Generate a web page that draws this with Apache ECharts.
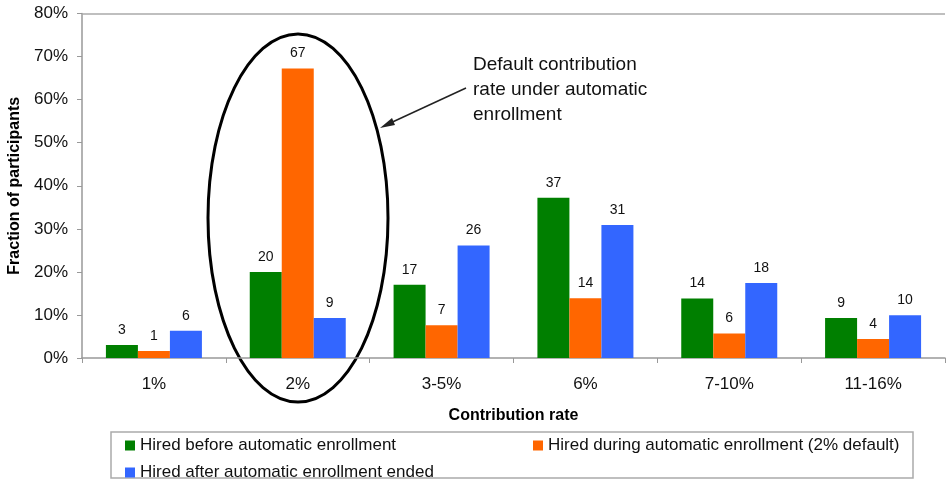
<!DOCTYPE html>
<html>
<head>
<meta charset="utf-8">
<script src="https://cdn.jsdelivr.net/npm/echarts@6/dist/echarts.min.js"></script>
<style>
  html, body { margin: 0; padding: 0; background: #fff; }
  #main { width: 950px; height: 479px; }
</style>
</head>
<body>
<div id="main"></div>
<script>
// categories on the x axis
const categories = ["1%", "2%", "3-5%", "6%", "7-10%", "11-16%"];
const seriesNames = [
  "Hired before automatic enrollment",
  "Hired during automatic enrollment (2% default)",
  "Hired after automatic enrollment ended"
];
// bar heights (percent)
const beforeVals = [3.0, 20.0, 17.0, 37.2, 13.8, 9.3];
const duringVals = [1.6, 67.2, 7.6, 13.9, 5.7, 4.4];
const afterVals = [6.3, 9.3, 26.1, 30.9, 17.4, 9.9];
// printed labels above bars
const beforeLabels = [3, 20, 17, 37, 14, 9];
const duringLabels = [1, 67, 7, 14, 6, 4];
const afterLabels = [6, 9, 26, 31, 18, 10];
const yTicks = [0, 10, 20, 30, 40, 50, 60, 70, 80];

const colors = ["#007f00", "#ff6600", "#3366ff"];
const font = "Liberation Sans, Arial, sans-serif";

function makeSeries(name, vals, labels, color, withTopLine) {
  let s = {
    name: name,
    type: "bar",
    barWidth: 32,
    barGap: "0%",
    itemStyle: { color: color },
    label: {
      show: true,
      position: "top",
      distance: 8,
      color: "#111",
      fontSize: 14,
      fontFamily: font,
      formatter: p => labels[p.dataIndex]
    },
    data: vals
  };
  if (withTopLine) {
    s.markLine = {
      silent: true,
      symbol: "none",
      label: { show: false },
      lineStyle: { color: "#aaa", width: 1.5, type: "solid" },
      data: [{ yAxis: yTicks[yTicks.length - 1] }]
    };
  }
  return s;
}

function legendAt(name, left, top) {
  return {
    left: left,
    top: top,
    padding: 0,
    itemWidth: 10,
    itemHeight: 10,
    icon: "rect",
    textStyle: { fontSize: 17, color: "#111" },
    data: [name]
  };
}

let chart = echarts.init(document.getElementById("main"));
chart.setOption({
  animation: false,
  textStyle: { fontFamily: font },
  grid: { left: 82, right: 5, top: 13.5, bottom: 121, outerBoundsMode: "none" },
  legend: [
    legendAt(seriesNames[0], 125, 437),
    legendAt(seriesNames[1], 533, 437),
    legendAt(seriesNames[2], 125, 464)
  ],
  xAxis: {
    type: "category",
    data: categories,
    name: "Contribution rate",
    nameLocation: "middle",
    nameGap: 50,
    nameTextStyle: { fontSize: 16, fontWeight: "bold", color: "#000" },
    axisLine: { lineStyle: { color: "#999", width: 1.5 } },
    axisTick: { show: true, length: 5, lineStyle: { color: "#999" } },
    axisLabel: { fontSize: 17, color: "#111", margin: 18 }
  },
  yAxis: {
    type: "value",
    min: yTicks[0],
    max: yTicks[yTicks.length - 1],
    interval: 10,
    name: "Fraction of participants",
    nameLocation: "middle",
    nameGap: 57,
    nameTextStyle: { fontSize: 16, fontWeight: "bold", color: "#000" },
    axisLine: { show: true, lineStyle: { color: "#999", width: 1.5 } },
    axisTick: { show: true, length: 5, lineStyle: { color: "#999" } },
    splitLine: { show: false },
    axisLabel: { fontSize: 17, color: "#111", margin: 14, formatter: "{value}%" }
  },
  graphic: [
    // legend border
    {
      type: "rect",
      shape: { x: 111, y: 432, width: 802, height: 46 },
      style: { fill: "none", stroke: "#aaa", lineWidth: 1.5 }
    },
    // ellipse round the 2% group
    {
      type: "ellipse",
      shape: { cx: 298, cy: 218, rx: 90, ry: 184 },
      style: { fill: "none", stroke: "#000", lineWidth: 3 }
    },
    // arrow
    {
      type: "line",
      shape: { x1: 466, y1: 88, x2: 386, y2: 125 },
      style: { stroke: "#222", lineWidth: 1.5 }
    },
    {
      type: "polygon",
      shape: { points: [[380, 128], [392, 118], [395, 125]] },
      style: { fill: "#222" }
    },
    {
      type: "text",
      left: 473,
      top: 52,
      style: {
        text: "Default contribution\nrate under automatic\nenrollment",
        font: "19px " + font,
        fill: "#111",
        lineHeight: 25
      }
    }
  ],
  series: [
    makeSeries(seriesNames[0], beforeVals, beforeLabels, colors[0], true),
    makeSeries(seriesNames[1], duringVals, duringLabels, colors[1], false),
    makeSeries(seriesNames[2], afterVals, afterLabels, colors[2], false)
  ]
});
</script>
</body>
</html>
